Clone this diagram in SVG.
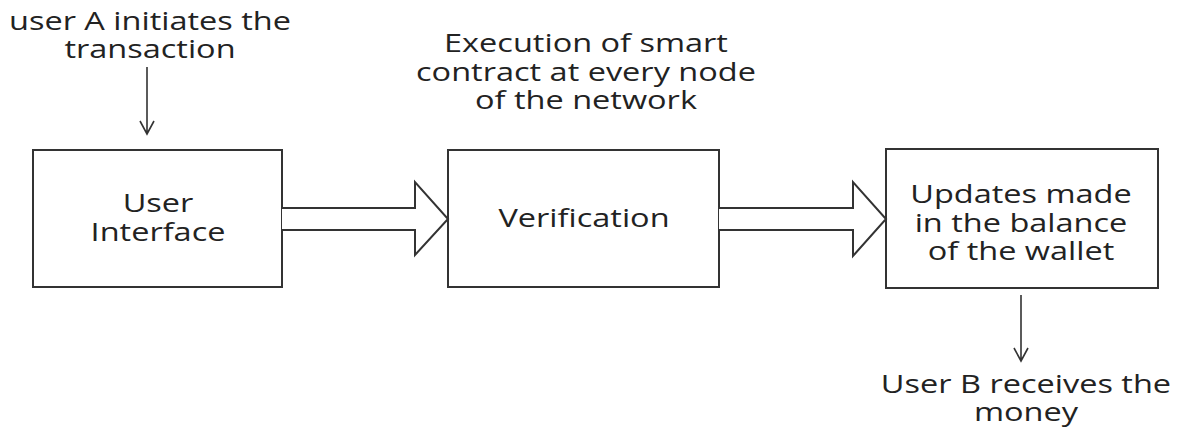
<svg xmlns="http://www.w3.org/2000/svg" width="1187" height="429" viewBox="0 0 1187 429">
<style>
.box{fill:#fff;stroke:#333;stroke-width:2}
.big{fill:#fff;stroke:#333;stroke-width:2;stroke-linejoin:miter}
.ln{stroke:#333;stroke-width:1.6;fill:none}
text{font-family:"Open Sans","Noto Sans",sans-serif;font-size:26px;fill:#222;text-anchor:middle}
</style>
<rect width="1187" height="429" fill="#fff"/>
<g id="label-top" transform="translate(150 0) scale(1.25 1)">
<text x="0" y="30">user A initiates the</text>
<text x="0" y="58">transaction</text>
</g>
<g id="label-exec" transform="translate(586 0) scale(1.25 1)">
<text x="0" y="52">Execution of smart</text>
<text x="0" y="81">contract at every node</text>
<text x="0" y="109">of the network</text>
</g>
<g id="node-ui">
<rect class="box" x="33" y="150" width="249" height="137"/>
<g transform="translate(158 0) scale(1.25 1)">
<text x="0" y="212">User</text>
<text x="0" y="241">Interface</text>
</g>
</g>
<g id="node-verification">
<rect class="box" x="448" y="150" width="271" height="137"/>
<g transform="translate(584 0) scale(1.25 1)">
<text x="0" y="227">Verification</text>
</g>
</g>
<g id="node-updates">
<rect class="box" x="886" y="149" width="272" height="139"/>
<g transform="translate(1021 0) scale(1.25 1)">
<text x="0" y="203">Updates made</text>
<text x="0" y="232">in the balance</text>
<text x="0" y="260">of the wallet</text>
</g>
</g>
<g id="label-bottom" transform="translate(1026 0) scale(1.25 1)">
<text x="0" y="393">User B receives the</text>
<text x="0" y="421">money</text>
</g>
<g id="connectors">
<path class="ln" d="M147 67 V134 M140 121 L147 134 L154 121"/>
<path class="big" d="M282 208 H415 V182 L448 219 L415 255 V230 H282"/>
<path class="big" d="M719 208 H853 V182 L886 219 L853 256 V230 H719"/>
<path class="ln" d="M1021 295 V361 M1014 348 L1021 361 L1028 348"/>
</g>
</svg>
